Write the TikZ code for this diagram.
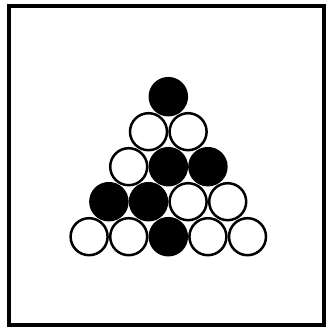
\documentclass[tikz,border=0pt]{standalone}
\usepackage{tikz}
\usetikzlibrary{positioning}

\tikzset{
  bolaB/.style={circle, draw=black, fill=white, line width=2.5pt,
                minimum size=37pt, inner sep=0pt},
  bolaP/.style={bolaB, fill=black}
}

\begin{document}
\begin{tikzpicture}[x=1pt,y=-1pt]

  \def\dx{19.8}\def\dy{35}
  \def\cx{168.3}\def\cy{96.7}

  \useasboundingbox (0,0) rectangle (327,334);

  % moldura
  \draw[black, line width=4pt] (8.5,6.5) rectangle (323.5,325);

  % linha 1
  \node[bolaP] (b11) at (\cx,\cy) {};

  % linha 2
  \node[bolaB] (b21) at (\cx-\dx,\cy+\dy) {};
  \node[bolaB] (b22) at (\cx+\dx,\cy+\dy) {};

  % linha 3
  \node[bolaB] (b31) at (\cx-2*\dx,\cy+2*\dy) {};
  \node[bolaP] (b32) at (\cx,\cy+2*\dy) {};
  \node[bolaP] (b33) at (\cx+2*\dx,\cy+2*\dy) {};

  % linha 4
  \node[bolaP] (b41) at (\cx-3*\dx,\cy+3*\dy) {};
  \node[bolaP] (b42) at (\cx-\dx,\cy+3*\dy) {};
  \node[bolaB] (b43) at (\cx+\dx,\cy+3*\dy) {};
  \node[bolaB] (b44) at (\cx+3*\dx,\cy+3*\dy) {};

  % linha 5
  \node[bolaB] (b51) at (\cx-4*\dx,\cy+4*\dy) {};
  \node[bolaB] (b52) at (\cx-2*\dx,\cy+4*\dy) {};
  \node[bolaP] (b53) at (\cx,\cy+4*\dy) {};
  \node[bolaB] (b54) at (\cx+2*\dx,\cy+4*\dy) {};
  \node[bolaB] (b55) at (\cx+4*\dx,\cy+4*\dy) {};

\end{tikzpicture}
\end{document}
